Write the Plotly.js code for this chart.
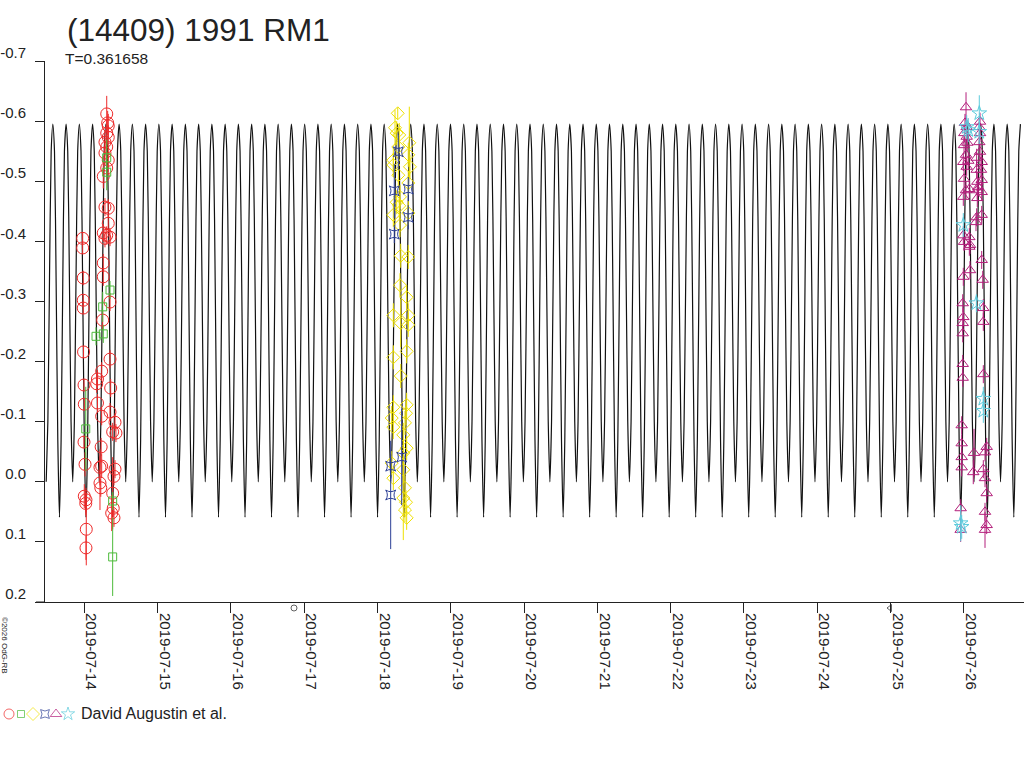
<!DOCTYPE html>
<html>
<head>
<meta charset="utf-8">
<script src="https://cdn.plot.ly/plotly-3.0.1.min.js"></script>
<style>html,body{margin:0;padding:0;background:#fff;}#chart{width:1024px;height:768px;}</style>
</head>
<body>
<div id="chart"></div>
<script>
// ---------- DATA (times are decimal days of July 2019, UT) ----------
const titleText = "(14409) 1991 RM1";
const periodText = "T=0.361658";
const legendText = "David Augustin et al.";
const copyrightText = "\u00a92026 OdG-RB";

const T = 0.361658;            // rotation period (days)
const curveMaxT = 19.719;      // epoch of a light-curve maximum
const curveStart = 13.48;
const curveEnd = 26.792;
// one rotation of the model curve (phase, magnitude)
const shapePhase = [0, 0.0625, 0.125, 0.1875, 0.25, 0.3125, 0.375, 0.4375, 0.5, 0.5625, 0.625, 0.6875, 0.75, 0.8125, 0.875, 0.9375];
const shapeMag   = [-0.595, -0.55, -0.33, -0.07, 0.059, -0.07, -0.33, -0.55, -0.595, -0.55, -0.34, -0.10, 0.0, -0.10, -0.34, -0.55];

const yTickVals = [-0.7, -0.6, -0.5, -0.4, -0.3, -0.2, -0.1, 0.0, 0.1, 0.2];
const yTickText = ["-0.7", "-0.6", "-0.5", "-0.4", "-0.3", "-0.2", "-0.1", "0.0", "0.1", "0.2"];

const redT = [13.978,13.978,13.986,13.986,13.986,13.990,13.996,14.000,13.996,14.010,14.000,14.023,14.020,14.027,14.023,
  14.306,14.319,14.327,14.306,14.327,14.282,14.306,14.282,14.327,14.306,14.259,14.282,14.327,14.327,14.259,14.306,14.351,14.282,
  14.259,14.259,14.351,14.251,14.351,14.237,14.180,14.169,14.360,14.180,14.237,14.351,14.419,14.387,14.432,14.230,14.214,14.237,
  14.419,14.405,14.214,14.225,14.387,14.395,14.374,14.405];
const redM = [-0.405,-0.389,-0.339,-0.302,-0.289,-0.216,-0.161,-0.129,-0.066,-0.029,0.024,0.030,0.036,0.079,0.110,
  -0.612,-0.597,-0.592,-0.580,-0.573,-0.565,-0.557,-0.547,-0.535,-0.522,-0.508,-0.457,-0.455,-0.430,-0.414,-0.410,-0.407,-0.405,
  -0.364,-0.341,-0.299,-0.269,-0.204,-0.184,-0.171,-0.163,-0.156,-0.131,-0.109,-0.116,-0.099,-0.083,-0.081,-0.058,-0.024,-0.026,
  -0.021,-0.009,0.002,0.010,0.019,0.044,0.052,0.060];
const redE = [0.01,0.01,0.012,0.01,0.01,0.01,0.01,0.01,0.01,0.02,0.02,0.02,0.02,0.06,0.02,
  0.03,0.02,0.02,0.02,0.02,0.02,0.02,0.02,0.02,0.02,0.02,0.015,0.015,0.015,0.015,0.015,0.015,0.015,
  0.015,0.015,0.015,0.015,0.015,0.015,0.015,0.015,0.015,0.015,0.015,0.015,0.015,0.015,0.015,0.015,0.03,0.02,
  0.015,0.015,0.045,0.015,0.06,0.015,0.03,0.015];

const greenT = [14.306,14.306,14.351,14.251,14.259,14.160,14.020,14.387,14.387];
const greenM = [-0.539,-0.515,-0.319,-0.291,-0.246,-0.242,-0.088,0.032,0.125];
const greenE = [0.03,0.03,0.015,0.025,0.015,0.015,0.07,0.015,0.065];

const yellowT = [18.276,18.239,18.262,18.297,18.434,18.284,18.216,18.420,18.443,18.216,18.284,18.420,18.307,18.262,18.297,18.216,
  18.307,18.420,18.317,18.420,18.307,18.398,18.216,18.420,18.317,18.420,18.216,18.398,18.317,18.216,18.398,18.194,18.389,18.216,
  18.375,18.352,18.398,18.194,18.352,18.216,18.352,18.375,18.352,18.389,18.375,18.398];
const yellowM = [-0.613,-0.589,-0.580,-0.577,-0.564,-0.557,-0.535,-0.544,-0.524,-0.527,-0.510,-0.497,-0.474,-0.465,-0.459,-0.444,
  -0.427,-0.447,-0.376,-0.374,-0.327,-0.307,-0.277,-0.277,-0.264,-0.261,-0.207,-0.217,-0.176,-0.124,-0.128,-0.106,-0.114,-0.091,
  -0.098,-0.078,-0.056,-0.031,-0.048,-0.006,-0.020,0.010,0.027,0.034,0.047,0.060];
const yellowE = [0.01,0.03,0.02,0.02,0.06,0.02,0.02,0.02,0.02,0.02,0.02,0.02,0.02,0.02,0.02,0.02,
  0.02,0.02,0.02,0.02,0.02,0.02,0.02,0.02,0.04,0.02,0.02,0.02,0.02,0.02,0.02,0.02,0.02,0.02,
  0.02,0.02,0.02,0.02,0.02,0.02,0.02,0.02,0.07,0.02,0.02,0.02];

const blueT = [18.284,18.229,18.420,18.420,18.229,18.330,18.180,18.180];
const blueM = [-0.549,-0.484,-0.487,-0.440,-0.412,-0.041,-0.026,0.022];
const blueE = [0.03,0.045,0.02,0.02,0.015,0.08,0.02,0.09];

const magentaT = [26.029,26.015,26.038,26.006,26.220,26.210,26.220,26.038,26.210,26.002,26.047,26.220,26.029,26.174,25.992,26.060,
  26.243,26.038,26.174,26.233,26.002,26.183,26.243,26.196,26.074,26.029,26.183,26.243,25.992,26.183,26.243,26.174,26.165,25.992,
  26.002,26.074,26.083,26.074,26.243,25.992,26.083,26.257,25.984,26.265,25.992,25.984,25.984,26.265,25.984,25.984,26.265,25.970,
  25.970,25.970,25.970,26.138,26.128,26.311,26.288,26.265,26.288,26.311,26.288,26.311,26.288,25.956,25.956];
const magentaM = [-0.623,-0.597,-0.590,-0.580,-0.599,-0.590,-0.580,-0.574,-0.565,-0.560,-0.564,-0.549,-0.544,-0.539,-0.532,-0.534,
  -0.532,-0.524,-0.519,-0.519,-0.504,-0.499,-0.502,-0.490,-0.487,-0.485,-0.485,-0.482,-0.474,-0.472,-0.444,-0.440,-0.432,-0.410,
  -0.399,-0.407,-0.394,-0.391,-0.369,-0.341,-0.352,-0.336,-0.297,-0.289,-0.274,-0.264,-0.247,-0.266,-0.196,-0.173,-0.179,-0.094,
  -0.064,-0.041,-0.024,-0.048,-0.016,-0.058,-0.049,-0.021,-0.006,0.019,0.050,0.072,0.080,0.044,0.080];
const magentaE = [0.025,0.015,0.015,0.015,0.015,0.015,0.015,0.015,0.015,0.015,0.015,0.015,0.015,0.015,0.015,0.015,
  0.015,0.015,0.015,0.015,0.015,0.015,0.015,0.015,0.015,0.015,0.015,0.015,0.015,0.015,0.015,0.015,0.015,0.015,
  0.015,0.015,0.015,0.015,0.015,0.015,0.015,0.015,0.015,0.015,0.015,0.015,0.015,0.015,0.015,0.015,0.015,0.015,
  0.015,0.015,0.015,0.04,0.02,0.015,0.015,0.015,0.015,0.015,0.015,0.015,0.03,0.015,0.02];

const cyanT = [26.210,26.038,26.060,26.210,25.992,26.170,26.265,26.265,25.956,25.970];
const cyanM = [-0.613,-0.590,-0.585,-0.582,-0.427,-0.297,-0.138,-0.118,0.069,0.075];
const cyanE = [0.03,0.02,0.02,0.02,0.02,0.015,0.02,0.02,0.03,0.02];

// ---------- STYLE ----------
const FONT = "Liberation Sans, Arial, Helvetica, sans-serif";
const INK = "#222";
const colRed = "#ee2a2a", colGreen = "#4cbb3a", colYellow = "#eee000", colBlue = "#2c3f96", colMag = "#b4207c", colCyan = "#5ccbdc";

function julDate(d) {
  return new Date(Date.UTC(2019, 6, 1) + (d - 1) * 864e5).toISOString().replace('T', ' ').replace('Z', '');
}

// model curve: the one-rotation shape repeated with the period T
const curveX = [], curveY = [];
const k0 = Math.floor((curveStart - curveMaxT) / T) - 1;
const k1 = Math.ceil((curveEnd - curveMaxT) / T) + 1;
for (let k = k0; k <= k1; k++) {
  for (let i = 0; i < shapePhase.length; i++) {
    const t = curveMaxT + (k + shapePhase[i]) * T;
    if (t >= curveStart && t <= curveEnd) { curveX.push(julDate(t)); curveY.push(shapeMag[i]); }
  }
}

function series(ts, ms, es, color, symbol, size) {
  return {
    type: 'scatter', mode: 'markers', x: ts.map(julDate), y: ms,
    marker: { symbol: symbol, size: size, color: color, line: { color: color, width: 1 } },
    error_y: { type: 'data', array: es, visible: true, width: 0, thickness: 1, color: color },
    xaxis: 'x', yaxis: 'y', hoverinfo: 'skip', showlegend: false
  };
}

const traces = [
  { type: 'scatter', mode: 'lines', x: curveX, y: curveY, line: { color: '#111', width: 1.2, shape: 'spline', smoothing: 0.6 }, hoverinfo: 'skip', showlegend: false },
  series(redT, redM, redE, colRed, 'circle-open', 12),
  series(greenT, greenM, greenE, colGreen, 'square-open', 8),
  series(yellowT, yellowM, yellowE, colYellow, 'diamond-open', 10),
  series(blueT, blueM, blueE, colBlue, 'star-square-open', 9),
  series(magentaT, magentaM, magentaE, colMag, 'triangle-up-open', 10),
  series(cyanT, cyanM, cyanE, colCyan, 'star-open', 11),
  // legend symbols (pixel overlay axes)
  { type: 'scatter', mode: 'markers', xaxis: 'x2', yaxis: 'y2', hoverinfo: 'skip', showlegend: false,
    x: [9, 21, 33, 45, 56, 68], y: [714, 714, 714, 714, 714, 714],
    marker: { symbol: ['circle-open', 'square-open', 'diamond-open', 'star-square-open', 'triangle-up-open', 'star-open'],
      size: [10, 7, 10, 8, 10, 10], color: [colRed, colGreen, colYellow, colBlue, colMag, colCyan],
      line: { width: 1, color: [colRed, colGreen, colYellow, colBlue, colMag, colCyan] } } },
  // small moon-phase marks below the axis
  { type: 'scatter', mode: 'markers', xaxis: 'x2', yaxis: 'y2', hoverinfo: 'skip', showlegend: false,
    x: [294, 890], y: [608, 608],
    marker: { symbol: ['circle-open', 'triangle-left-open'], size: [6, 6], color: INK, line: { width: 1, color: INK } } }
];

const W = 1024, H = 768;
const layout = {
  width: W, height: H,
  margin: { l: 0, r: 0, t: 0, b: 0, pad: 0 },
  paper_bgcolor: '#fff', plot_bgcolor: 'rgba(0,0,0,0)',
  font: { family: FONT, color: INK, size: 15 },
  showlegend: false,
  xaxis: {
    type: 'date', domain: [45 / W, 1], anchor: 'y',
    range: [julDate(13.464), julDate(26.820)],
    tick0: '2019-07-14', dtick: 86400000, tickformat: '%Y-%m-%d', tickangle: 90,
    ticks: 'outside', ticklen: 10, tickcolor: INK, tickwidth: 1,
    ticklabelshift: 7, ticklabelstandoff: -3,
    tickfont: { family: FONT, size: 15, color: INK },
    showgrid: false, zeroline: false, showline: true, linecolor: INK, linewidth: 1, fixedrange: true
  },
  yaxis: {
    domain: [1 - 602 / H, 1 - 61 / H], anchor: 'x',
    range: [0.2, -0.7], tickvals: yTickVals, ticktext: yTickText,
    ticks: 'outside', ticklen: 9, tickcolor: INK, tickwidth: 1,
    ticklabelshift: 8, ticklabelstandoff: 6,
    tickfont: { family: FONT, size: 15, color: INK },
    showgrid: false, zeroline: false, showline: true, linecolor: INK, linewidth: 1, fixedrange: true
  },
  xaxis2: { domain: [0, 1], range: [0, W], anchor: 'y2', visible: false, fixedrange: true },
  yaxis2: { domain: [0, 1], range: [H, 0], anchor: 'x2', visible: false, fixedrange: true },
  shapes: [
    { type: 'line', xref: 'paper', yref: 'paper', x0: 36 / W, x1: 45 / W, y0: 1 - 602 / H, y1: 1 - 602 / H, line: { color: INK, width: 1 } }
  ],
  annotations: [
    { text: titleText, xref: 'paper', yref: 'paper', x: 65 / W, y: 1 - 30 / H, xanchor: 'left', yanchor: 'middle', showarrow: false,
      font: { family: FONT, size: 31.5, color: INK } },
    { text: periodText, xref: 'paper', yref: 'paper', x: 63 / W, y: 1 - 58 / H, xanchor: 'left', yanchor: 'middle', showarrow: false,
      font: { family: FONT, size: 15.5, color: INK } },
    { text: legendText, xref: 'paper', yref: 'paper', x: 79 / W, y: 1 - 713 / H, xanchor: 'left', yanchor: 'middle', showarrow: false,
      font: { family: FONT, size: 16, color: INK } },
    { text: copyrightText, xref: 'paper', yref: 'paper', x: 5 / W, y: 1 - 645 / H, xanchor: 'center', yanchor: 'middle', showarrow: false,
      textangle: 90, font: { family: FONT, size: 8, color: INK } }
  ]
};

Plotly.newPlot('chart', traces, layout, { staticPlot: true, displayModeBar: false });
</script>
</body>
</html>
